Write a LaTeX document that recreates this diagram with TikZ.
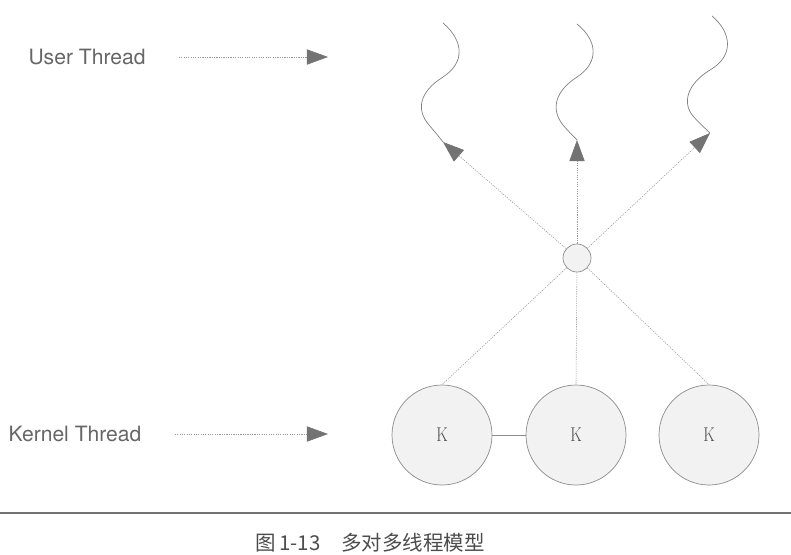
\documentclass[tikz,border=0pt]{standalone}
\usepackage{fontspec}
\newfontfamily\cjk{Noto Sans CJK SC}
\newfontfamily\heros{TeX Gyre Heros}
\usetikzlibrary{arrows.meta, positioning}
\tikzset{
  mmrot/.style = {font=\heros\fontsize{18}{20}\selectfont, text=black!60},
  mmk/.style = {circle, draw=black!45, fill=black!5, minimum size=3cm,
    inner sep=0pt, line width=0.6pt, font=\fontsize{17}{18}\selectfont,
    text=black!70},
  mmmux/.style = {circle, draw=black!45, fill=black!5, minimum size=0.84cm,
    inner sep=0pt, line width=0.6pt},
  mmlig/.style = {draw=black!40, line width=0.5pt,
    dash pattern=on 1pt off 1pt},
  mmsol/.style = {draw=black!45, line width=0.6pt},
  mmseta/.style = {-{Triangle[length=18pt, width=13pt, color=black!55]}},
  mmwave/.style = {draw=black!50, line width=0.6pt},
  mmcap/.style = {font=\cjk\fontsize{17.5}{19}\selectfont, text=black!70}
}

\begin{document}
\begin{tikzpicture}[x=0.03cm, y=-0.03cm]
  \useasboundingbox (0,0) rectangle (791,554);
  % labels on the left
  \node [mmrot] (ut) at (87,57) {User Thread};
  \node [mmrot] (kt) at (75,434) {Kernel Thread};
  \coordinate (ue) at (328,57);
  \coordinate (ke) at (328,434);
  \draw [mmlig, mmseta, shorten <=25pt] (ut) -- (ue);
  \draw [mmlig, mmseta, shorten <=25pt] (kt) -- (ke);
  % kernel threads
  \node [mmk] (k1) at (442,435) {\scalebox{0.8}[1]{K}};
  \node [mmk] (k2) at (576,435) {\scalebox{0.8}[1]{K}};
  \node [mmk] (k3) at (709,435) {\scalebox{0.8}[1]{K}};
  \node [mmmux] (mux) at (577,258) {};
  \draw [mmsol] (k1) -- (k2);
  \draw [mmlig] (mux) -- (k1.north);
  \draw [mmlig] (mux) -- (k2.north);
  \draw [mmlig] (mux) -- (k3.north);
  % user threads
  \draw [mmwave] (443,23) .. controls (463,40) and (466,62) .. (443,77)
    .. controls (419,92) and (416,110) .. (429,125)
    .. controls (435,132) and (440,138) .. (443,142) coordinate (w1);
  \draw [mmwave] (577,24) .. controls (597,40) and (600,62) .. (577,77)
    .. controls (554,92) and (551,110) .. (563,125)
    .. controls (569,132) and (574,137) .. (577,140) coordinate (w2);
  \draw [mmwave] (712,16) .. controls (732,33) and (734,56) .. (710,70)
    .. controls (687,84) and (682,103) .. (693,116)
    .. controls (700,124) and (706,129) .. (710,133) coordinate (w3);
  \draw [mmlig, mmseta] (mux) -- (w1);
  \draw [mmlig, mmseta] (mux) -- (w2);
  \draw [mmlig, mmseta] (mux) -- (w3);
  % caption
  \draw [draw=black!55, line width=1.2pt] (0,513) -- (791,513);
  \node [mmcap] (cap) at (370,543) {图\,1-13\quad 多对多线程模型};
\end{tikzpicture}
\end{document}
